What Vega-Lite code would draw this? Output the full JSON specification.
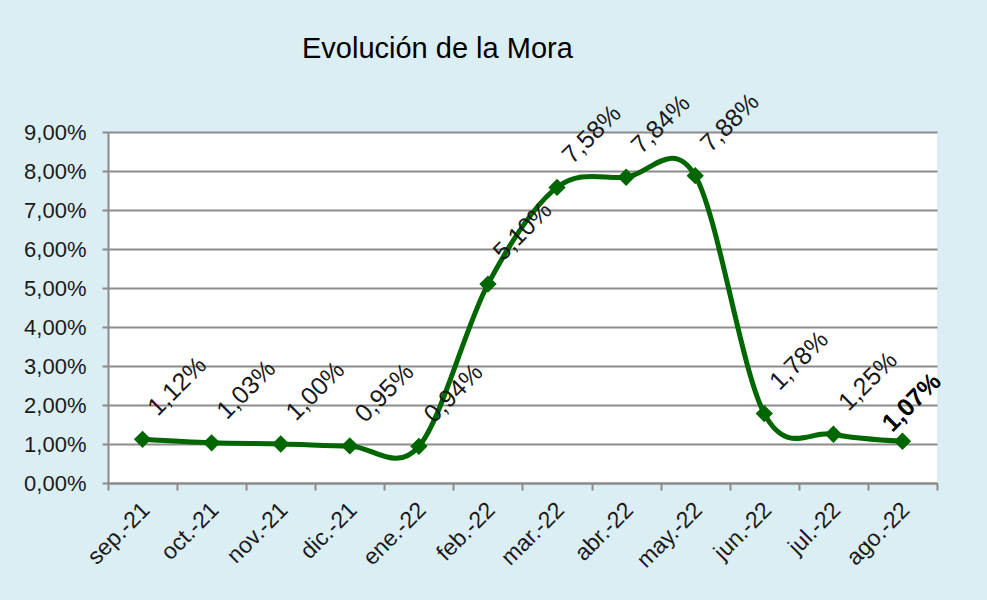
{
  "$schema": "https://vega.github.io/schema/vega-lite/v6.json",
  "width": 829,
  "height": 351,
  "autosize": {"type": "none"},
  "padding": {"left": 108, "top": 132, "right": 50, "bottom": 117},
  "background": "#DBEEF4",
  "config": {
    "locale": {"number": {"decimal": ",", "thousands": ".", "grouping": [3], "currency": ["", " €"]}},
    "view": {"fill": "white", "stroke": null},
    "font": "Liberation Sans"
  },
  "title": {
    "text": "Evolución de la Mora",
    "fontSize": 29,
    "fontWeight": "normal",
    "color": "black",
    "font": "Liberation Sans",
    "anchor": "start",
    "frame": "group",
    "dx": 194,
    "offset": 25
  },
  "data": {
    "values": [
      {"mes": "sep.-21", "mora": 0.0112},
      {"mes": "oct.-21", "mora": 0.0103},
      {"mes": "nov.-21", "mora": 0.0100},
      {"mes": "dic.-21", "mora": 0.0095},
      {"mes": "ene.-22", "mora": 0.0094},
      {"mes": "feb.-22", "mora": 0.0510},
      {"mes": "mar.-22", "mora": 0.0758},
      {"mes": "abr.-22", "mora": 0.0784},
      {"mes": "may.-22", "mora": 0.0788},
      {"mes": "jun.-22", "mora": 0.0178},
      {"mes": "jul.-22", "mora": 0.0125},
      {"mes": "ago.-22", "mora": 0.0107}
    ]
  },
  "encoding": {
    "x": {
      "field": "mes",
      "type": "ordinal",
      "sort": null,
      "scale": {"type": "band", "paddingInner": 0, "paddingOuter": 0},
      "axis": {
        "title": null,
        "labelAngle": -45,
        "labelAlign": "right",
        "labelBaseline": "middle",
        "labelFontSize": 23,
        "labelColor": "#1a1a1a",
        "labelOffset": 3,
        "labelPadding": 16,
        "tickBand": "extent",
        "tickSize": 7,
        "tickColor": "#8a8a8a",
        "tickWidth": 2,
        "domainColor": "#8a8a8a",
        "domainWidth": 2,
        "grid": false
      }
    },
    "y": {
      "field": "mora",
      "type": "quantitative",
      "scale": {"domain": [0, 0.09], "nice": false},
      "axis": {
        "title": null,
        "values": [0, 0.01, 0.02, 0.03, 0.04, 0.05, 0.06, 0.07, 0.08, 0.09],
        "format": ".2%",
        "labelFontSize": 22,
        "labelColor": "#1a1a1a",
        "labelPadding": 16,
        "tickSize": 6,
        "tickColor": "#8a8a8a",
        "tickWidth": 2,
        "domainColor": "#8a8a8a",
        "domainWidth": 2,
        "grid": true,
        "gridColor": "#8c8c8c",
        "gridWidth": 2
      }
    }
  },
  "layer": [
    {
      "mark": {"type": "line", "interpolate": "cardinal", "tension": 0, "color": "#006600", "strokeWidth": 5}
    },
    {
      "mark": {"type": "point", "shape": "diamond", "size": 300, "filled": true, "color": "#006600", "opacity": 1}
    },
    {
      "transform": [{"filter": "datum.mes !== 'ago.-22'"}],
      "mark": {"type": "text", "angle": 315, "align": "center", "baseline": "middle", "dx": 62, "dy": -13, "fontSize": 25, "color": "#1a1a1a"},
      "encoding": {"text": {"field": "mora", "type": "quantitative", "format": ".2%"}}
    },
    {
      "transform": [{"filter": "datum.mes === 'ago.-22'"}],
      "mark": {"type": "text", "angle": 315, "align": "center", "baseline": "middle", "dx": 34, "dy": -21, "fontSize": 25, "fontWeight": "bold", "color": "#000000"},
      "encoding": {"text": {"field": "mora", "type": "quantitative", "format": ".2%"}}
    }
  ]
}
